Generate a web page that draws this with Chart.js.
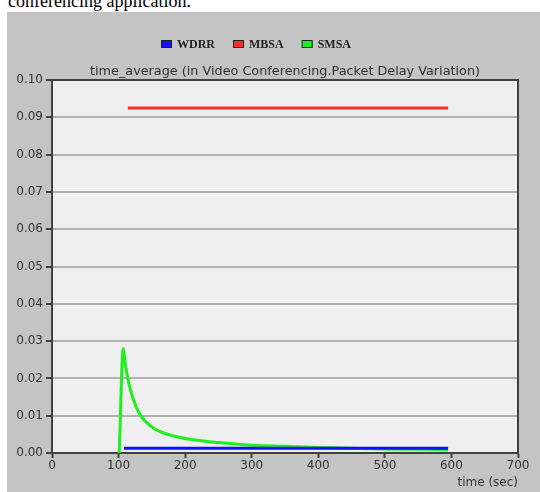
<!DOCTYPE html>
<html>
<head>
<meta charset="utf-8">
<script src="https://cdn.jsdelivr.net/npm/chart.js@4.4.1/dist/chart.umd.min.js"></script>
<style>
  html, body { margin:0; padding:0; background:#ffffff; width:540px; height:492px; overflow:hidden; }
  #caption { position:absolute; left:8px; top:-8px; font-family:"Liberation Serif","DejaVu Serif",serif; font-size:18px; line-height:18px; color:#000; white-space:nowrap; }
  #wrap { position:absolute; left:7px; top:12px; width:533px; height:480px; background:#c4c4c4; }
  canvas { display:block; }
</style>
</head>
<body>
<div id="caption">conferencing application.</div>
<div id="wrap"><canvas id="c" width="533" height="480"></canvas></div>
<script>
// ---- data ----
const seriesNames = ["WDRR", "MBSA", "SMSA"];
const seriesColors = ["#1010ff", "#ff2a2a", "#1ef01e"];

const wdrrTime  = [108, 595];
const wdrrValue = [0.0013, 0.0013];

const mbsaTime  = [114, 595];
const mbsaValue = [0.0925, 0.0925];

const smsaTime  = [101, 107, 110, 115, 122, 130, 140, 157, 180, 210, 250, 300, 350, 400, 450, 500, 550, 595];
const smsaValue = [0.0, 0.028, 0.024, 0.019, 0.0145, 0.011, 0.0085, 0.0062, 0.0047, 0.0036, 0.0028, 0.0021, 0.0018, 0.0015, 0.0013, 0.0011, 0.0010, 0.0009];

const xTicks = [0, 100, 200, 300, 400, 500, 600, 700];
const yTicks = [0, 0.01, 0.02, 0.03, 0.04, 0.05, 0.06, 0.07, 0.08, 0.09, 0.10];

const chartTitle = "time_average (in Video Conferencing.Packet Delay Variation)";
const xTitle = "time (sec)";

function pts(xs, ys) { return xs.map((x, i) => ({ x: x, y: ys[i] })); }

const datasets = [
  { label: seriesNames[0], data: pts(wdrrTime, wdrrValue), borderColor: seriesColors[0], backgroundColor: seriesColors[0] },
  { label: seriesNames[1], data: pts(mbsaTime, mbsaValue), borderColor: seriesColors[1], backgroundColor: seriesColors[1] },
  { label: seriesNames[2], data: pts(smsaTime, smsaValue), borderColor: seriesColors[2], backgroundColor: seriesColors[2], cubicInterpolationMode: 'monotone' }
];

const dark = '#404040';

const decor = {
  id: 'decor',
  beforeDraw(chart) {
    const { ctx, chartArea: a } = chart;
    ctx.save();
    ctx.fillStyle = '#efefef';
    ctx.fillRect(a.left, a.top, a.right - a.left, a.bottom - a.top);
    ctx.restore();
  },
  afterDraw(chart) {
    const { ctx, chartArea: a } = chart;
    ctx.save();
    // top and right frame
    ctx.strokeStyle = dark;
    ctx.lineWidth = 2;
    ctx.beginPath();
    ctx.moveTo(a.left, a.top);
    ctx.lineTo(a.right, a.top);
    ctx.lineTo(a.right, a.bottom);
    ctx.stroke();
    // title
    ctx.fillStyle = '#303030';
    ctx.font = '12.8px "DejaVu Sans"';
    ctx.textAlign = 'center';
    ctx.textBaseline = 'middle';
    ctx.fillText(chartTitle, (a.left + a.right) / 2, a.top - 8);
    // legend
    ctx.font = 'bold 12px "Liberation Serif"';
    ctx.textAlign = 'left';
    const boxW = 11, boxH = 8, gapBox = 5, gapItem = 18;
    const ds = chart.data.datasets;
    const widths = ds.map(d => boxW + gapBox + ctx.measureText(d.label).width);
    const total = widths.reduce((s, w) => s + w, 0) + gapItem * (ds.length - 1);
    let x = (a.left + a.right) / 2 - 29 - total / 2;
    const cy = 32;
    ds.forEach((d, i) => {
      ctx.fillStyle = d.borderColor;
      ctx.fillRect(x, cy - boxH / 2, boxW, boxH);
      ctx.strokeStyle = '#202020';
      ctx.lineWidth = 1;
      ctx.strokeRect(x + 0.5, cy - boxH / 2 + 0.5, boxW - 1, boxH - 1);
      ctx.fillStyle = '#202020';
      ctx.fillText(d.label, x + boxW + gapBox, cy + 1);
      x += widths[i] + gapItem;
    });
    ctx.restore();
  }
};

new Chart(document.getElementById('c'), {
  type: 'line',
  data: { datasets: datasets },
  plugins: [decor],
  options: {
    responsive: false,
    devicePixelRatio: 1,
    animation: false,
    layout: { padding: { top: 68, right: 22, left: 0, bottom: 0 } },
    elements: { point: { radius: 0 }, line: { borderWidth: 3, tension: 0 } },
    plugins: { legend: { display: false }, title: { display: false }, tooltip: { enabled: false } },
    scales: {
      x: {
        type: 'linear', min: 0, max: 700,
        afterBuildTicks(scale) { scale.ticks = xTicks.map(v => ({ value: v })); },
        afterFit(scale) { scale.height = 39; },
        grid: { drawOnChartArea: false, tickLength: 5, tickColor: dark, tickWidth: 2 },
        border: { color: dark, width: 2 },
        ticks: { color: '#333333', font: { family: 'DejaVu Sans', size: 12 }, padding: 1, maxRotation: 0 },
        title: { display: true, text: xTitle, align: 'end', color: '#333333', font: { family: 'DejaVu Sans', size: 12 }, padding: { top: 0, bottom: 2 } }
      },
      y: {
        type: 'linear', min: 0, max: 0.1,
        afterBuildTicks(scale) { scale.ticks = yTicks.map(v => ({ value: v })); },
        afterFit(scale) { scale.width = 45; },
        grid: { color: '#b0b0b0', lineWidth: 2, tickLength: 6, tickColor: dark, tickWidth: 2 },
        border: { color: dark, width: 2 },
        ticks: { color: '#333333', font: { family: 'DejaVu Sans', size: 12 }, padding: 3, callback: v => v.toFixed(2) }
      }
    }
  }
});
</script>
</body>
</html>
